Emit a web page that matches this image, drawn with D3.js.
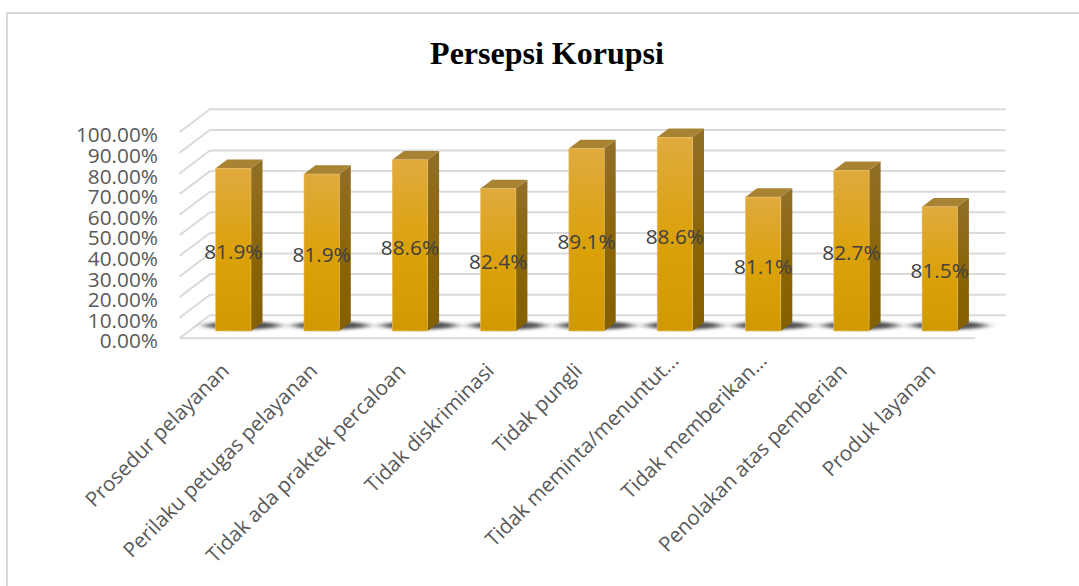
<!DOCTYPE html>
<html>
<head>
<meta charset="utf-8">
<script src="https://cdn.jsdelivr.net/npm/d3@7/dist/d3.min.js"></script>
<style>
html,body{margin:0;padding:0;background:#fff;overflow:hidden}
svg{display:block}
</style>
</head>
<body>
<svg id="chart" width="1079" height="586"></svg>
<script>
const titleText = "Persepsi Korupsi";
const categories = ["Prosedur pelayanan","Perilaku petugas pelayanan","Tidak ada praktek percaloan","Tidak diskriminasi","Tidak pungli","Tidak meminta/menuntut...","Tidak memberikan...","Penolakan atas pemberian","Produk layanan"];
const barValues = [0.79,0.762,0.831,0.692,0.886,0.94,0.65,0.78,0.603];
const valueLabels = ["81.9%","81.9%","88.6%","82.4%","89.1%","88.6%","81.1%","82.7%","81.5%"];
const yTicks = [0,0.1,0.2,0.3,0.4,0.5,0.6,0.7,0.8,0.9,1];

const svg = d3.select("#chart");
const font = "'Open Sans', sans-serif";
const depth = {dx: 30.5, dy: 23};
const barDepth = {dx: 11.5, dy: 8.8};

const defs = svg.append("defs");
function grad(id, stops){
  const g = defs.append("linearGradient").attr("id",id).attr("x1",0).attr("y1",0).attr("x2",0).attr("y2",1);
  stops.forEach(s=>g.append("stop").attr("offset",s[0]).attr("stop-color",s[1]));
}
grad("front",[[0,"#E0AA3E"],[0.55,"#DBA108"],[1,"#D19900"]]);
grad("side",[[0,"#916F28"],[0.55,"#8A6507"],[1,"#846000"]]);
defs.append("filter").attr("id","blur").attr("x","-30%").attr("y","-200%").attr("width","160%").attr("height","500%")
  .append("feGaussianBlur").attr("stdDeviation","6 1.8");

// frame
svg.append("path").attr("d","M1079,13H7V586").attr("fill","none").attr("stroke","#D9D9D9").attr("stroke-width",2);

// title
svg.append("text").attr("x",547).attr("y",64).attr("text-anchor","middle")
  .attr("font-family","'Liberation Serif', serif").attr("font-weight","bold").attr("font-size",32).attr("fill","#000").text(titleText);

// scales: front wall plane of the axis, and the plane the bars stand in
const yFront = d3.scaleLinear().domain([0,1]).range([338.3,132.3]);
const yBar = d3.scaleLinear().domain([0,1]).range([331,125]);
const x = d3.scaleBand().domain(categories).range([189.2,983.9]).paddingInner(0.6).paddingOuter(0.3);

// grid
const grid = svg.append("g").attr("fill","none").attr("stroke","#DADADA").attr("stroke-width",2);
yTicks.forEach(t=>{
  const yf = yFront(t);
  grid.append("path").attr("d",`M179.5,${yf}L${179.5+depth.dx},${yf-depth.dy}H1005.7`);
});
grid.append("path").attr("d",`M179.5,${yFront(0)}H975`);

// y axis
const yAxis = svg.append("g").attr("transform","translate(158,0)")
  .call(d3.axisLeft(yFront).tickValues(yTicks).tickSize(0).tickPadding(0).tickFormat(d3.format(".2%")));
yAxis.select(".domain").remove();
yAxis.selectAll("text").attr("font-family",font).attr("font-size",20.8).attr("fill","#595959").attr("dy","0.35em")
  .attr("transform","translate(0,2.4)");

// shadows
svg.append("g").selectAll("ellipse").data(categories).join("ellipse")
  .attr("cx",d=>x(d)+x.bandwidth()/2+9).attr("cy",325.5).attr("rx",38).attr("ry",4)
  .attr("fill","#505050").attr("filter","url(#blur)");

// bars
const bars = svg.append("g").selectAll("g").data(categories).join("g");
bars.each(function(d,i){
  const g = d3.select(this), l = x(d), w = x.bandwidth(), top = yBar(barValues[i]), base = yBar(0);
  g.append("path").attr("d",`M${l+w},${top}l${barDepth.dx},${-barDepth.dy}V${base-barDepth.dy}L${l+w},${base}Z`).attr("fill","url(#side)");
  g.append("path").attr("d",`M${l},${top}l${barDepth.dx},${-barDepth.dy}h${w}l${-barDepth.dx},${barDepth.dy}Z`).attr("fill","#A98334");
  g.append("rect").attr("x",l).attr("y",top).attr("width",w).attr("height",base-top).attr("fill","url(#front)").attr("stroke","#E6BE68").attr("stroke-width",0.6);
});

// value labels
svg.append("g").selectAll("text").data(categories).join("text")
  .attr("x",d=>x(d)+x.bandwidth()/2)
  .attr("y",(d,i)=>(yBar(barValues[i])+yBar(0))/2+9.5)
  .attr("text-anchor","middle").attr("font-family",font).attr("font-size",20.8).attr("fill","#404040")
  .text((d,i)=>valueLabels[i]);

// category labels: truncated labels sit further along the slant, as in the reference
svg.append("g").selectAll("text").data(categories).join("text")
  .attr("transform",d=>{
    const cut = d.endsWith("...");
    return `translate(${x(d)+x.bandwidth()/2-3+(cut?8:0)},${372-(cut?10:0)}) rotate(-45)`;
  })
  .attr("text-anchor","end").attr("font-family",font).attr("font-size",20.6).attr("fill","#595959").text(d=>d);
</script>
</body>
</html>
